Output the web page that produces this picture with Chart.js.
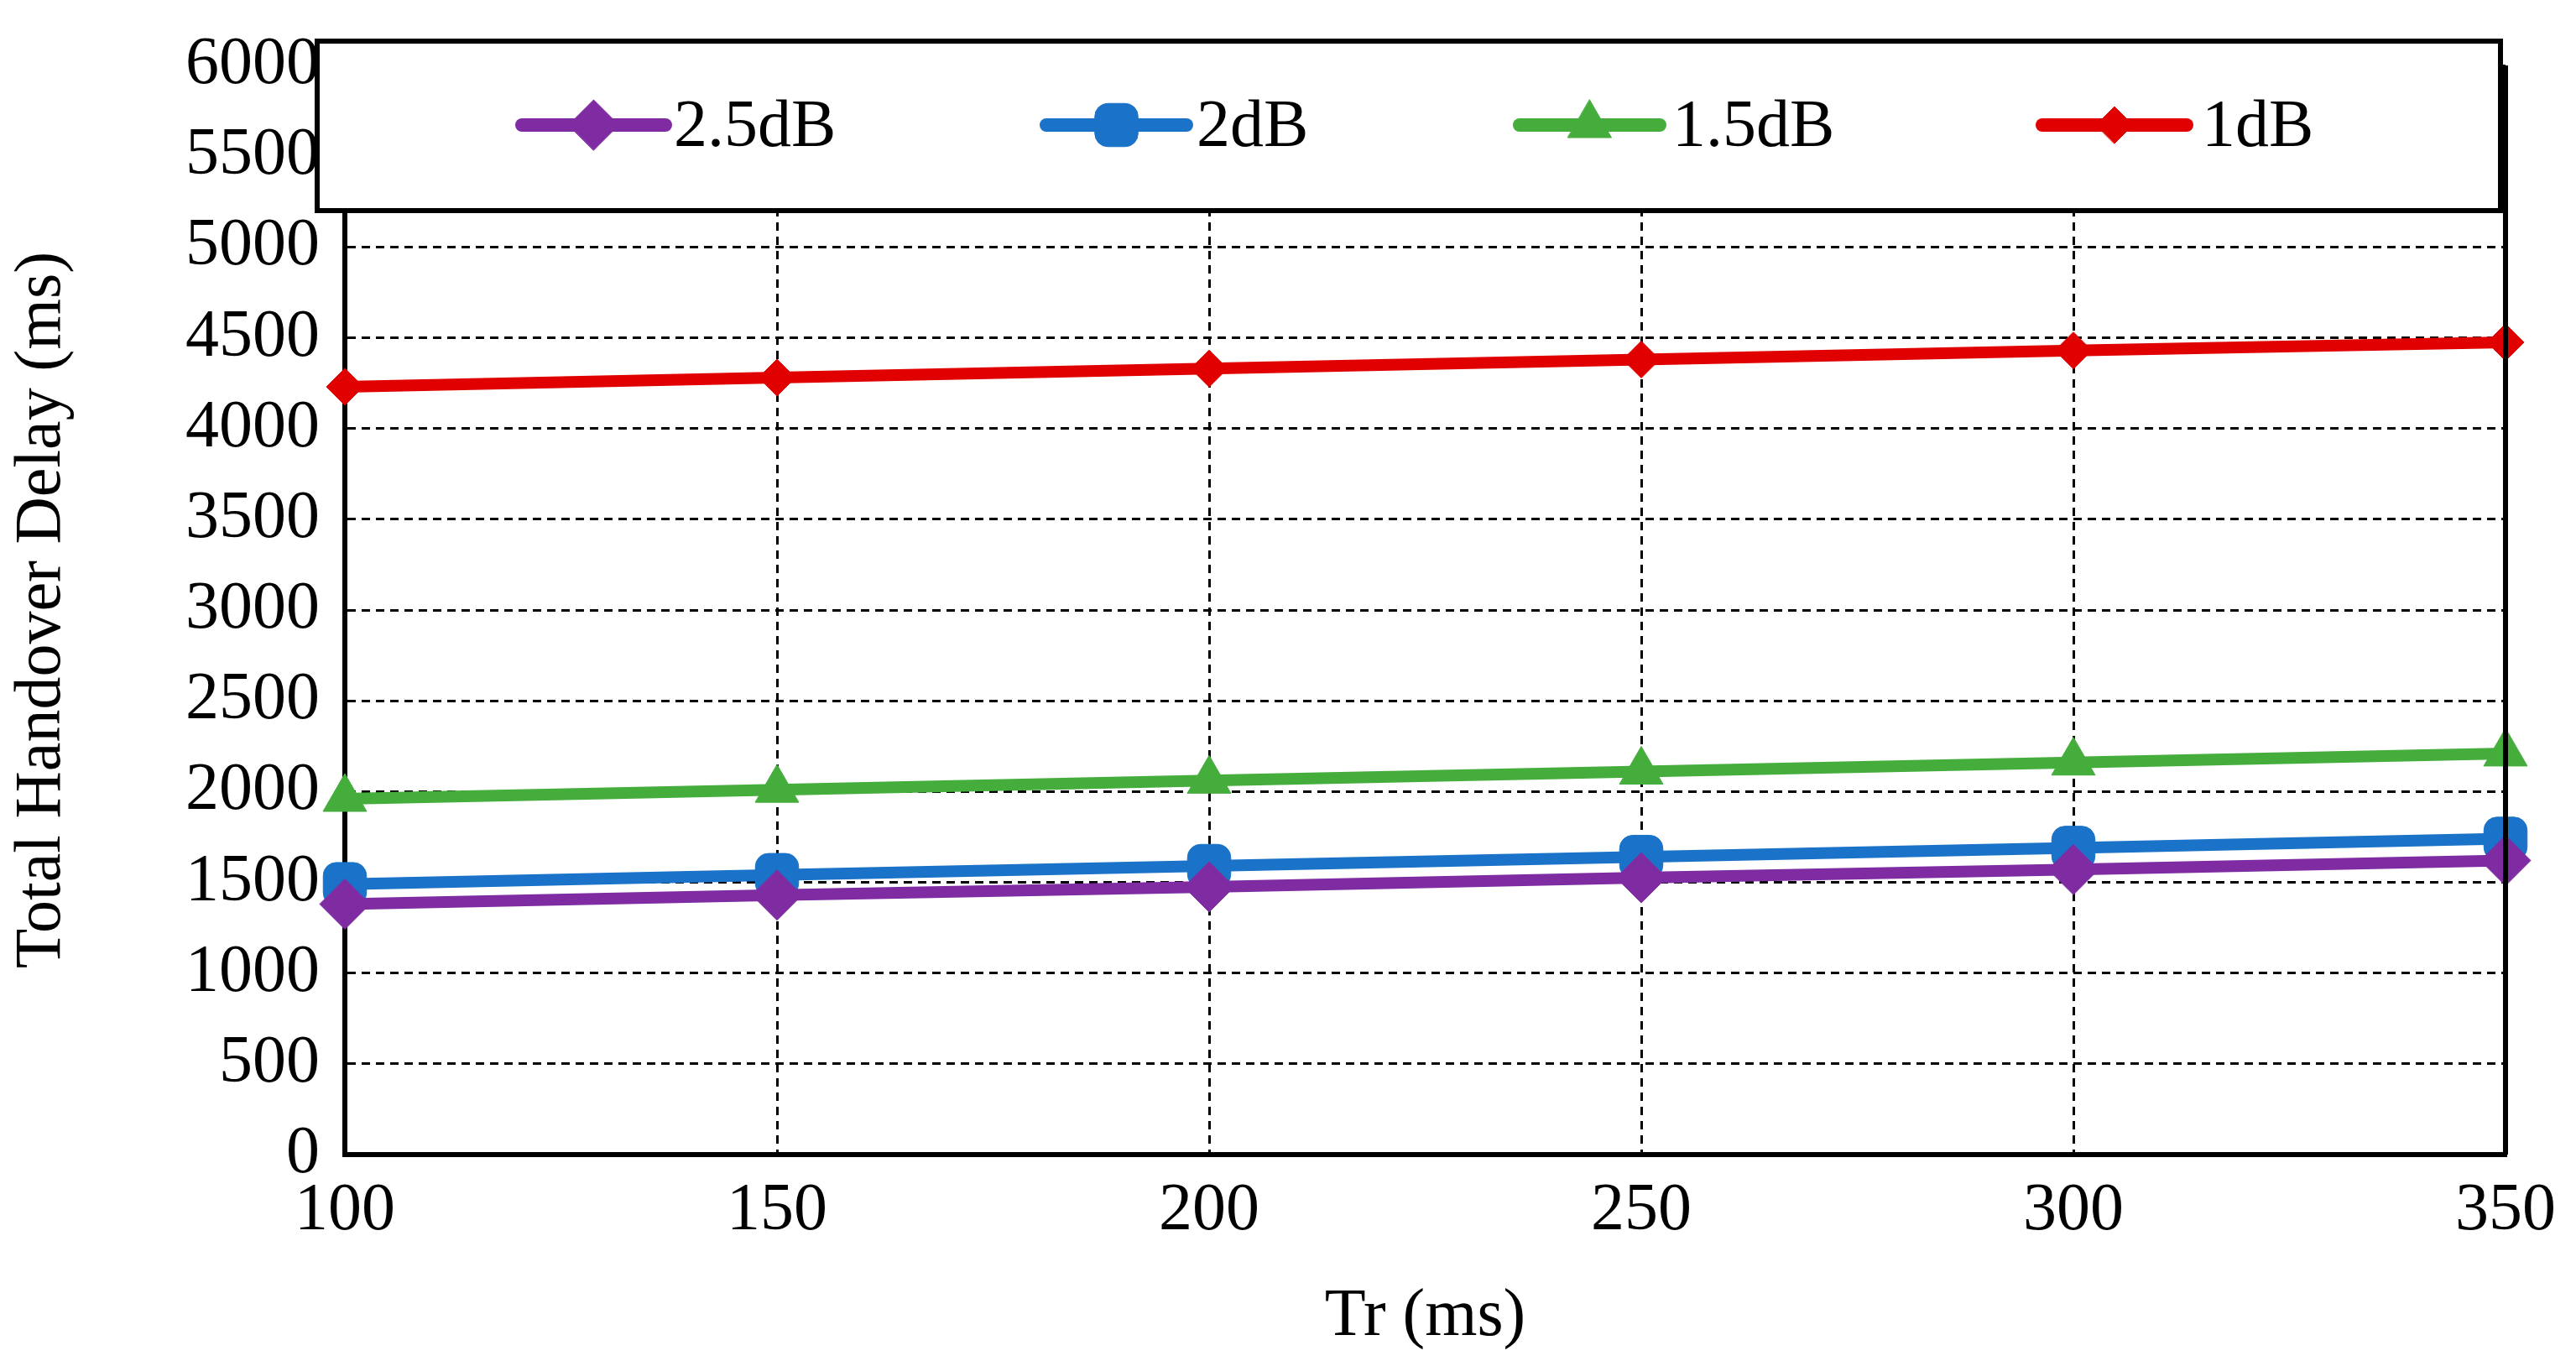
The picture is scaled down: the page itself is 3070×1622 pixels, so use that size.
<!DOCTYPE html>
<html><head><meta charset="utf-8">
<script src="https://cdn.jsdelivr.net/npm/chart.js@4"></script>
<style>html,body{margin:0;padding:0;background:#fff}#c{display:block}</style>
</head><body>
<div style="width:3070px;height:1622px"><canvas id="c"></canvas></div>
<script>
const categories = [100, 150, 200, 250, 300, 350];
const s25 = [1380, 1430, 1475, 1525, 1570, 1620];
const s2 = [1490, 1540, 1590, 1640, 1690, 1740];
const s15 = [1960, 2010, 2060, 2110, 2160, 2210];
const s1 = [4230, 4280, 4330, 4380, 4430, 4475];
const seriesNames = ['2.5dB', '2dB', '1.5dB', '1dB'];
const FONT = "'Liberation Serif', 'Times New Roman', serif";

const styles = [
  {c:'#7f2ca3', p:'rectRot', r:30},
  {c:'#1a73c8', p:'rectRounded', r:30},
  {c:'#45ad3c', p:'triangle', r:30},
  {c:'#e00000', p:'rectRot', r:22}
];
const vals = [s25, s2, s15, s1];
const datasets = vals.map((v,i)=>({
  label: seriesNames[i],
  data: v.map((y,j)=>({x:categories[j], y})),
  borderColor: styles[i].c, backgroundColor: styles[i].c,
  borderWidth: 14, pointStyle: styles[i].p, pointRadius: styles[i].r,
  pointHoverRadius: styles[i].r, pointBorderWidth: 1, clip: false, tension: 0
}));

const legendItems = [
  {x1:622, x2:793, tx:803},
  {x1:1247, x2:1414, tx:1426},
  {x1:1811, x2:1978, tx:1993},
  {x1:2434, x2:2606, tx:2624}
];

const legendPlugin = {
  id:'boxLegend',
  afterDraw(chart){
    const ctx = chart.ctx, a = chart.chartArea;
    ctx.save();
    ctx.strokeStyle='#000'; ctx.lineWidth=6;
    ctx.beginPath(); ctx.moveTo(a.right,a.top); ctx.lineTo(a.right,a.bottom); ctx.stroke();
    ctx.fillStyle='#fff';
    ctx.fillRect(378,49,2602,202); ctx.strokeRect(378,49,2602,202);
    const y = 149;
    legendItems.forEach((it,i)=>{
      const st = styles[i];
      ctx.strokeStyle=st.c; ctx.lineWidth=16; ctx.lineCap='round';
      ctx.beginPath(); ctx.moveTo(it.x1,y); ctx.lineTo(it.x2,y); ctx.stroke();
      ctx.fillStyle=st.c; ctx.strokeStyle=st.c; ctx.lineWidth=1;
      Chart.helpers.drawPoint(ctx,{pointStyle:st.p, radius:st.r, borderWidth:1}, (it.x1+it.x2)/2, y);
      ctx.fillStyle='#000'; ctx.font='80px '+FONT; ctx.textBaseline='middle'; ctx.textAlign='left';
      ctx.fillText(seriesNames[i], it.tx, y+4);
    });
    ctx.restore();
  }
};

new Chart(document.getElementById('c'), {
  type:'line',
  data:{datasets},
  plugins:[legendPlugin],
  options:{
    responsive:true, maintainAspectRatio:false, animation:false,
    layout:{padding:{top:59, right:84, left:0, bottom:0}},
    plugins:{legend:{display:false}, tooltip:{enabled:false}},
    scales:{
      x:{type:'linear', min:100, max:350,
        ticks:{stepSize:50, color:'#000', font:{family:FONT,size:80}, padding:20, callback:v=>String(v)},
        grid:{color:'#000', lineWidth:3, drawTicks:false},
        border:{display:true, color:'#000', width:6, dash:[10,7]},
        title:{display:true, text:'Tr (ms)', color:'#000', font:{family:FONT,size:80}, padding:{top:0}},
        afterFit(s){ s.height = 246; }
      },
      y:{min:0, max:6000,
        ticks:{stepSize:500, color:'#000', font:{family:FONT,size:80}, padding:30, callback:v=>String(v)},
        grid:{color:'#000', lineWidth:3, drawTicks:false},
        border:{display:true, color:'#000', width:6, dash:[10,7]},
        title:{display:true, text:'Total Handover Delay (ms)', color:'#000', font:{family:FONT,size:78}, padding:{bottom:0}},
        afterFit(s){ s.width = 411; }
      }
    }
  }
});
</script>
</body></html>
